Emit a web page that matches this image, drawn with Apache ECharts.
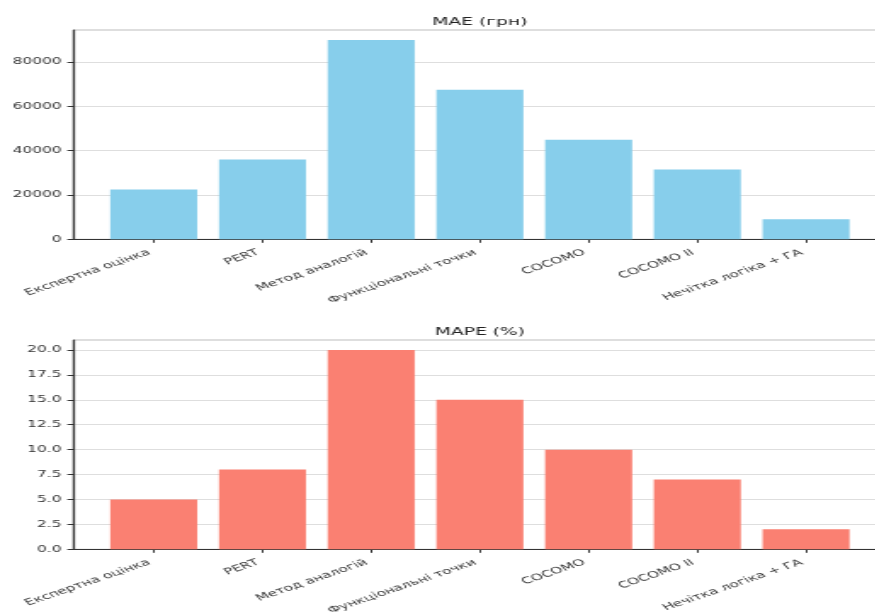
<!DOCTYPE html>
<html>
<head>
<meta charset="utf-8">
<script src="https://cdn.jsdelivr.net/npm/echarts@6/dist/echarts.min.js"></script>
<style>
  html, body { margin: 0; padding: 0; background: #fff; overflow: hidden; }
  #wrap { width: 876px; height: 615px; overflow: hidden; }
  #chart { height: 615px; transform-origin: 0 0; }
</style>
</head>
<body>
<div id="wrap"><div id="chart"></div></div>
<script>
// Methods compared
const categories = [
  'Експертна оцінка',
  'PERT',
  'Метод аналогій',
  'Функціональні точки',
  'COCOMO',
  'COCOMO II',
  'Нечітка логіка + ГА'
];
// Mean absolute error, UAH
const maeValues = [22500, 36000, 90000, 67500, 45000, 31500, 9000];
// Mean absolute percentage error, %
const mapeValues = [5, 8, 20, 15, 10, 7, 2];
// Tick labels of the two value axes
const maeTicks = [0, 20000, 40000, 60000, 80000];
const mapeTicks = [0, 2.5, 5, 7.5, 10, 12.5, 15, 17.5, 20];

// The figure is laid out narrow and then widened horizontally
const STRETCH = 1.7;
const PAGE_W = 876, PAGE_H = 615;
const W = PAGE_W / STRETCH;

const el = document.getElementById('chart');
el.style.width = W + 'px';
el.style.transform = 'scaleX(' + STRETCH + ')';

const FONT = 'DejaVu Sans';
const n = categories.length;
// bar layout like a default bar plot: width 0.8 and 5% side margins
const halfBar = 0.4;
const pad = 0.05 * (n - 1 + 2 * halfBar);
const xMin = -halfBar - pad;
const xMax = n - 1 + halfBar + pad;

const gridLeft = 73.3 / STRETCH;
const gridWidth = (886.5 - 73.3) / STRETCH;
const gridHeight = 209.3;
const tops = [30, 340];
const barPx = 2 * halfBar * gridWidth / (xMax - xMin);
const centerX = gridLeft + gridWidth / 2;
const catIdx = categories.map((_, i) => i);

function grid(top) {
  return {
    left: gridLeft, top: top, width: gridWidth, height: gridHeight,
    show: true, borderColor: '#bdbdbd', borderWidth: 1,
    containLabel: false, outerBoundsMode: 'none'
  };
}
function xAxis(gi) {
  return {
    type: 'value', gridIndex: gi, min: xMin, max: xMax,
    axisLine: { show: true, onZero: false, lineStyle: { color: '#333', width: 1 } },
    axisTick: { show: true, customValues: catIdx, length: 3.5, lineStyle: { color: '#333' } },
    axisLabel: {
      customValues: catIdx, rotate: 30, margin: 11, padding: [0, 3, 0, 0],
      fontFamily: FONT, fontSize: 9, color: '#333',
      formatter: v => categories[Math.round(v)]
    },
    splitLine: { show: false }
  };
}
function yAxis(gi, maxV, step, ticks, fmt) {
  return {
    type: 'value', gridIndex: gi, min: 0, max: maxV, interval: step,
    axisLine: { show: true, onZero: false, lineStyle: { color: '#333', width: 1.2 } },
    axisTick: { show: true, customValues: ticks, length: 3.5, lineStyle: { color: '#333' } },
    axisLabel: {
      customValues: ticks, margin: 7,
      fontFamily: FONT, fontSize: 9, color: '#333', formatter: fmt
    },
    splitLine: { show: true, lineStyle: { color: '#dedede', width: 1 } }
  };
}
function title(text, top) {
  return {
    text: text, left: centerX, top: top, textAlign: 'center', padding: 0,
    textStyle: { fontFamily: FONT, fontSize: 11, fontWeight: 'normal', color: '#222' }
  };
}

const maeMax = Math.max(...maeValues) * 1.05;
const mapeMax = Math.max(...mapeValues) * 1.05;

const chart = echarts.init(el, null, { renderer: 'canvas', width: W, height: PAGE_H });
chart.setOption({
  animation: false,
  backgroundColor: '#fff',
  title: [title('MAE (грн)', 17), title('MAPE (%)', 326.5)],
  grid: [grid(tops[0]), grid(tops[1])],
  xAxis: [xAxis(0), xAxis(1)],
  yAxis: [
    yAxis(0, maeMax, 20000, maeTicks, v => String(v)),
    yAxis(1, mapeMax, 2.5, mapeTicks, v => v.toFixed(1))
  ],
  series: [
    {
      type: 'bar', xAxisIndex: 0, yAxisIndex: 0, barWidth: barPx,
      itemStyle: { color: '#87CEEB' },
      data: maeValues.map((v, i) => [i, v])
    },
    {
      type: 'bar', xAxisIndex: 1, yAxisIndex: 1, barWidth: barPx,
      itemStyle: { color: '#FA8072' },
      data: mapeValues.map((v, i) => [i, v])
    }
  ]
});
</script>
</body>
</html>
